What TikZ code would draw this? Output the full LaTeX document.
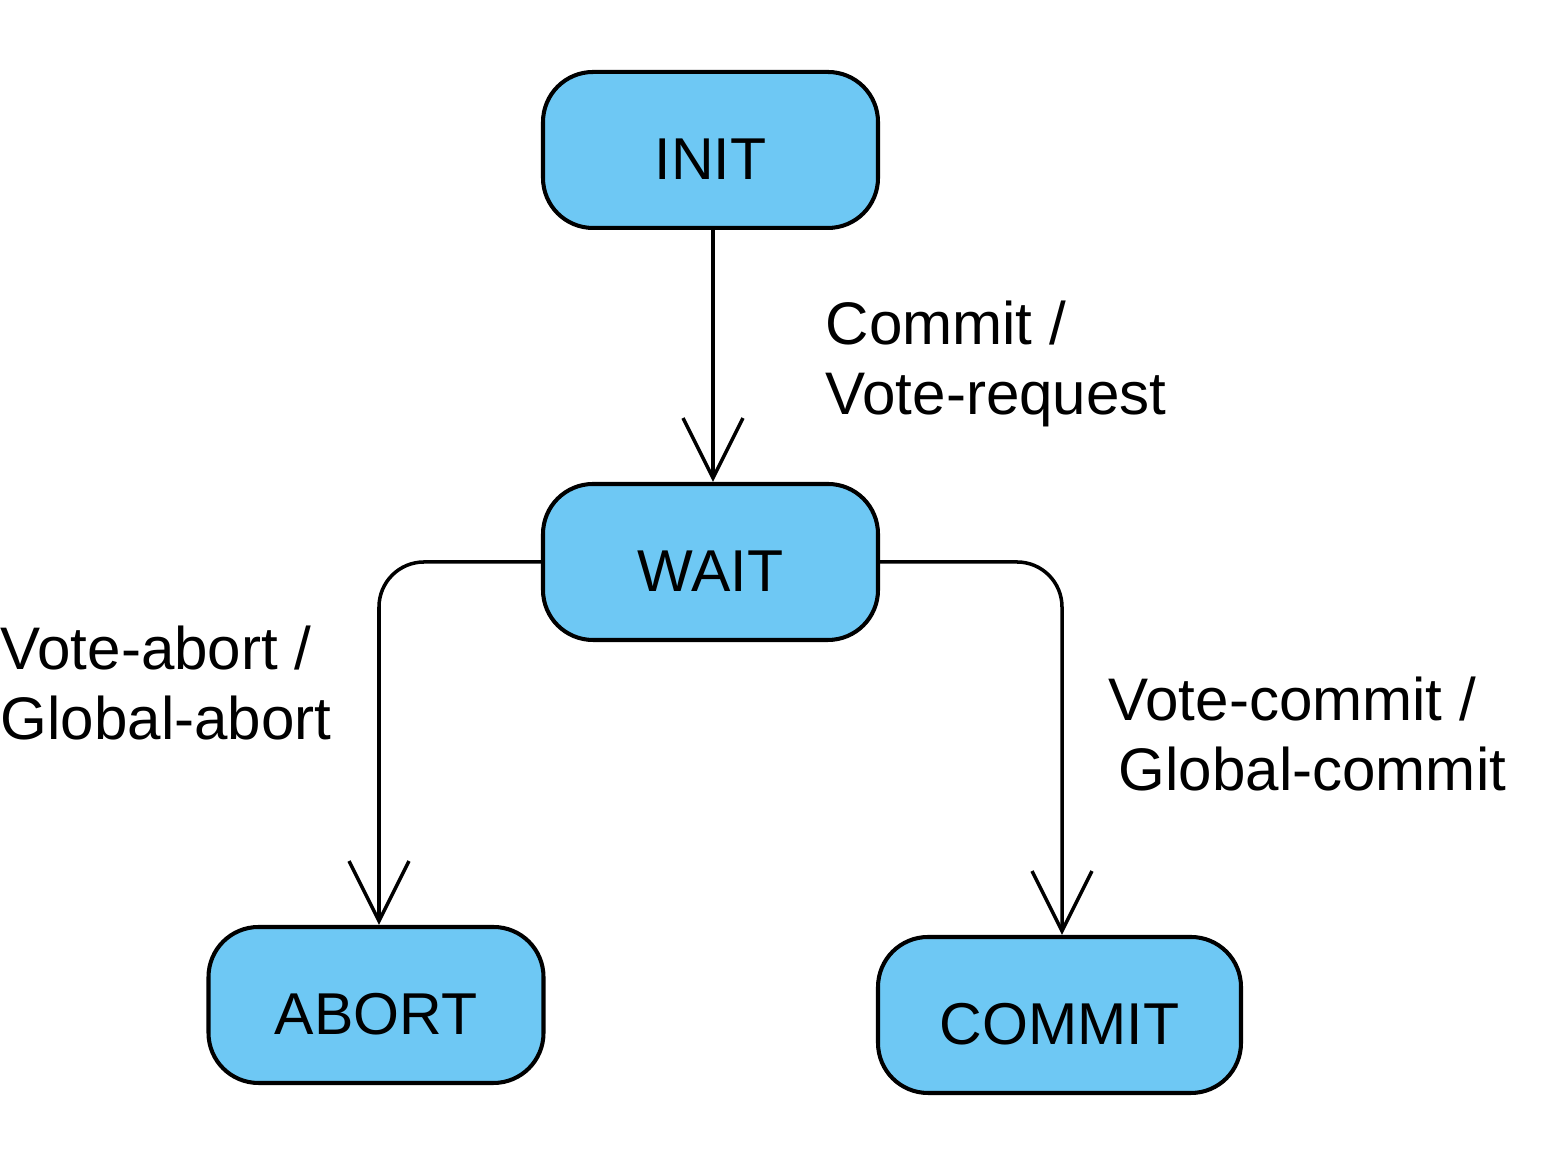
\documentclass[tikz,border=0pt]{standalone}
\usepackage{fontspec}
\setmainfont{Liberation Sans}
\usetikzlibrary{arrows.meta}
\definecolor{statefill}{HTML}{6EC8F4}
\begin{document}
\begin{tikzpicture}[
            state/.style={rectangle, rounded corners=0.5cm, draw=black, line width=1.15pt, fill=statefill, minimum width=3.35cm, minimum height=1.56cm, text height=0.6cm, font=\fontsize{16.8}{20}\selectfont},
            trans/.style={draw=black, line width=1pt, rounded corners=0.45cm, -{Straight Barb[length=0.6cm, width=0.6cm, line width=1pt]}},
            lbl/.style={align=left, inner sep=0pt, anchor=base west, font=\fontsize{17.1}{20}\selectfont}
        ]
            \useasboundingbox (0,0) rectangle (15.44,11.64);
            \node(init) at (7.105,10.14) [state] {INIT};
            \node(wait) at (7.105,6.02) [state] {WAIT};
            \node(abort) at (3.76,1.59) [state] {ABORT};
            \node(commit) at (10.595,1.49) [state, minimum width=3.63cm] {COMMIT};
            \draw[trans] (init.south -| 7.13,0) -- (wait.north -| 7.13,0);
            \draw[trans] (wait.west) -| (abort.north -| 3.79,0);
            \draw[trans] (wait.east) -| (commit.north -| 10.62,0);
            % base anchor sits on the last line
            \node(lblcommit) at (8.25,7.49) [lbl] {Commit /\\Vote-request};
            \node(lblabort) at (0,4.24) [lbl] {Vote-abort /\\Global-abort};
            \node(lblglobal) at (11.08,3.73) [lbl] {Vote-commit /\\\hspace{0.1cm}Global-commit};
        \end{tikzpicture}
\end{document}
